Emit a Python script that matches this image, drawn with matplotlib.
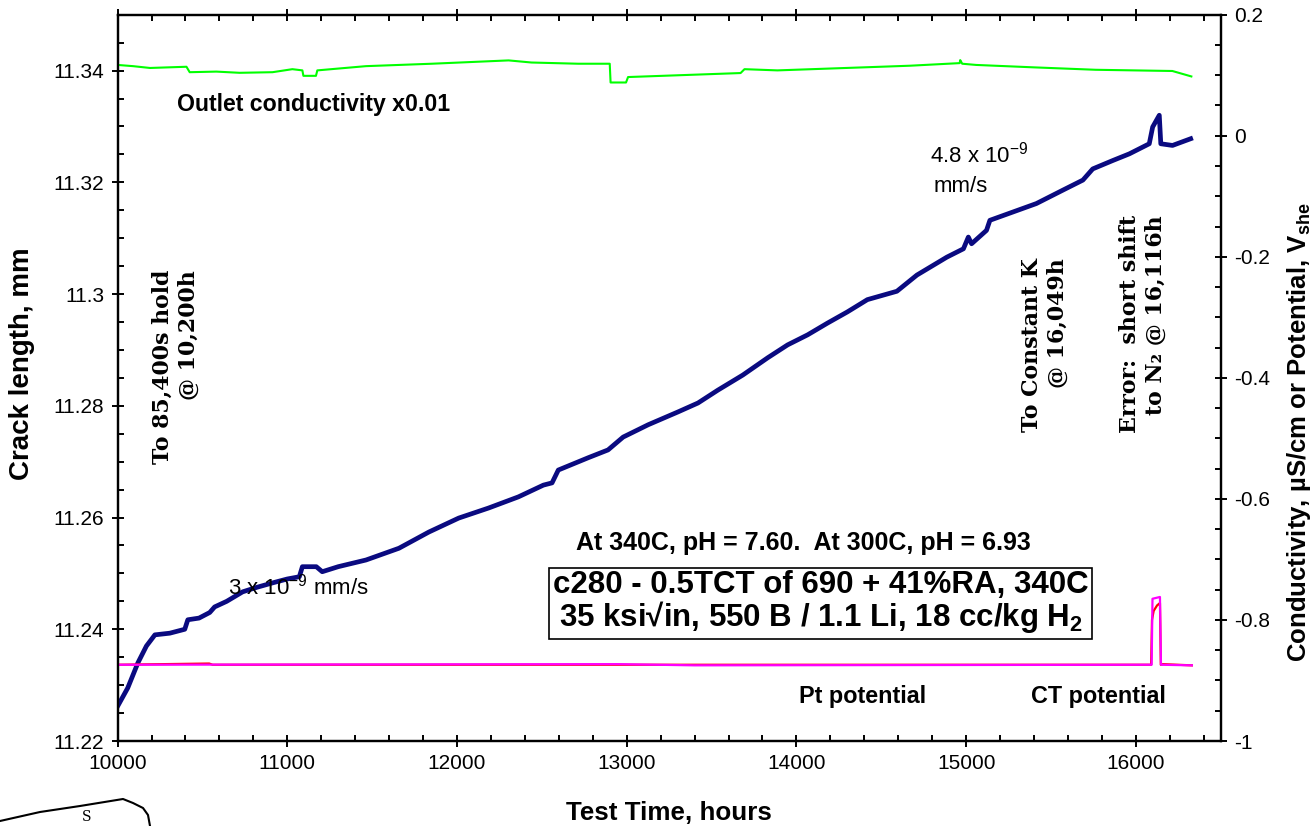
import matplotlib
matplotlib.use("Agg")
import matplotlib.pyplot as plt
from matplotlib.ticker import MultipleLocator, FuncFormatter
from matplotlib.lines import Line2D

plt.rcParams["font.family"] = ["Liberation Sans", "DejaVu Sans"]
plt.rcParams["mathtext.fontset"] = "custom"
plt.rcParams["mathtext.rm"] = "Liberation Sans"
plt.rcParams["mathtext.bf"] = "Liberation Sans:bold"
plt.rcParams["mathtext.it"] = "Liberation Sans:italic"
plt.rcParams["axes.unicode_minus"] = False

# crack length (left axis, mm)
crack_hours = [10000, 10060, 10120, 10170, 10220, 10308, 10396, 10414, 10480, 10543,
               10572, 10643, 10737, 10820, 10913, 11000, 11071, 11089, 11171, 11206,
               11300, 11464, 11658, 11834, 12010, 12186, 12362, 12509, 12560, 12597,
               12773, 12890, 12979, 13126, 13302, 13420, 13537, 13684, 13831, 13948,
               14066, 14183, 14300, 14418, 14592, 14710, 14886, 14984, 15013, 15032,
               15120, 15140, 15277, 15414, 15570, 15688, 15746, 15864, 15962, 16079,
               16099, 16138, 16147, 16216, 16323]
crack_mm = [11.2262, 11.2295, 11.2340, 11.2370, 11.2390, 11.2393, 11.2400, 11.2417, 11.2420, 11.2430,
            11.2440, 11.2450, 11.2467, 11.2475, 11.2483, 11.2490, 11.2494, 11.2512, 11.2512, 11.2503,
            11.2512, 11.2524, 11.2545, 11.2574, 11.2599, 11.2617, 11.2637, 11.2658, 11.2662, 11.2685,
            11.2707, 11.2721, 11.2744, 11.2766, 11.2789, 11.2805, 11.2828, 11.2855, 11.2886, 11.2909,
            11.2927, 11.2948, 11.2968, 11.2990, 11.3005, 11.3034, 11.3066, 11.3081, 11.3102, 11.3090,
            11.3114, 11.3132, 11.3147, 11.3162, 11.3186, 11.3204, 11.3224, 11.3239, 11.3251, 11.3269,
            11.3299, 11.3320, 11.3269, 11.3266, 11.3278]

# outlet conductivity x0.01 (right axis)
cond_hours = [10000, 10091, 10191, 10406, 10425, 10582, 10719, 10913, 11030, 11089,
              11095, 11169, 11177, 11464, 11852, 12304, 12439, 12714, 12900, 12905,
              12996, 13008, 13671, 13694, 13888, 14668, 14962, 14965, 14977, 15059,
              15400, 15763, 16215, 16327]
cond_vals = [0.117, 0.115, 0.112, 0.114, 0.105, 0.106, 0.104, 0.105, 0.110, 0.108,
             0.099, 0.099, 0.108, 0.115, 0.119, 0.1245, 0.121, 0.119, 0.119, 0.088,
             0.088, 0.097, 0.1036, 0.110, 0.108, 0.1157, 0.120, 0.125, 0.119, 0.117,
             0.113, 0.109, 0.107, 0.098]

# Pt potential (red) and CT potential (magenta), V_she
pt_hours = [10000, 10540, 10560, 16090, 16095, 16105, 16125, 16142, 16147, 16160, 16330]
pt_vals = [-0.874, -0.872, -0.874, -0.874, -0.800, -0.785, -0.776, -0.772, -0.874, -0.873, -0.875]
ct_hours = [10000, 12950, 13400, 16093, 16098, 16142, 16148, 16330]
ct_vals = [-0.874, -0.873, -0.875, -0.874, -0.765, -0.762, -0.874, -0.875]


def fmt(v, pos):
    s = f"{round(v, 4):g}"
    return "0" if s == "-0" else s


fig = plt.figure(figsize=(13.15, 8.26), dpi=100)
ax = fig.add_axes([0.0894, 0.1029, 0.8389, 0.8793])
ax2 = ax.twinx()

ax.plot(crack_hours, crack_mm, color="#0a0a80", lw=3.4, zorder=3)
ax2.plot(cond_hours, cond_vals, color="#00ff00", lw=1.5)
ax2.plot(pt_hours, pt_vals, color="#ff0000", lw=1.6)
ax2.plot(ct_hours, ct_vals, color="#ff00ff", lw=1.6)

ax.set_xlim(10000, 16500)
ax.set_ylim(11.22, 11.35)
ax2.set_ylim(-1.0, 0.2)

ax.xaxis.set_major_locator(MultipleLocator(1000))
ax.xaxis.set_minor_locator(MultipleLocator(200))
ax.yaxis.set_major_locator(MultipleLocator(0.02))
ax.yaxis.set_minor_locator(MultipleLocator(0.005))
ax2.yaxis.set_major_locator(MultipleLocator(0.2))
ax2.yaxis.set_minor_locator(MultipleLocator(0.05))
ax.yaxis.set_major_formatter(FuncFormatter(fmt))
ax2.yaxis.set_major_formatter(FuncFormatter(fmt))

for a in (ax, ax2):
    a.tick_params(which="major", direction="inout", length=9, width=1.4, labelsize=15, pad=5)
    a.tick_params(which="minor", direction="in", length=4, width=1.4)
    for sp in a.spines.values():
        sp.set_linewidth(1.6)
ax.tick_params(axis="x", which="both", top=True)
ax.tick_params(axis="y", which="both", right=False)

ax.set_xlabel("Test Time, hours", fontsize=18.7, fontweight="bold")
ax.set_ylabel("Crack length, mm", fontsize=20, fontweight="bold")
ax.xaxis.set_label_coords(0.5, -0.083)
ax.yaxis.set_label_coords(-0.075, 0.52)
ax2.set_ylabel(r"Conductivity, µS/cm or Potential, V$_\mathbf{she}$", fontsize=18.5, fontweight="bold")
ax2.yaxis.set_label_coords(1.058, 0.425)

# annotations
tk = dict(zorder=5)
ax.text(10349, 11.334, "Outlet conductivity x0.01", fontsize=16.7, fontweight="bold", va="center", **tk)
ax.text(14786, 11.3249, r"4.8 x 10$^{-9}$", fontsize=16, va="center", **tk)
ax.text(14809, 11.3192, "mm/s", fontsize=16, va="center", **tk)
ax.text(10650, 11.2476, r"3 x 10$^{-9}$ mm/s", fontsize=16, va="center", **tk)
ax.text(12702, 11.2554, "At 340C, pH = 7.60.  At 300C, pH = 6.93", fontsize=18,
        fontweight="bold", va="center", **tk)
ax.text(14143, 11.2448,
        "c280 - 0.5TCT of 690 + 41%RA, 340C\n" + r"35 ksi√in, 550 B / 1.1 Li, 18 cc/kg H$_\mathbf{2}$",
        fontsize=22.5, fontweight="bold", ha="center", va="center", linespacing=0.95,
        bbox=dict(boxstyle="square,pad=0.12", fc="white", ec="black", lw=1.2), **tk)
ax.text(14017, 11.2279, "Pt potential", fontsize=16.8, fontweight="bold", va="center", **tk)
ax.text(15384, 11.2279, "CT potential", fontsize=16.8, fontweight="bold", va="center", **tk)

serif = ["DejaVu Serif", "DejaVu Sans"]
ax.text(10343, 11.3043, "To 85,400s hold\n@ 10,200h", family=serif, fontsize=15.8,
        fontweight="bold", rotation=90, ha="center", va="top", multialignment="right", **tk)
ax.text(15464, 11.3064, "To Constant K\n@ 16,049h", family=serif, fontsize=15.8,
        fontweight="bold", rotation=90, ha="center", va="top", multialignment="right", **tk)
ax.text(16042, 11.3141, "Error:  short shift\nto N₂ @ 16,116h", family=serif, fontsize=15.8,
        fontweight="bold", rotation=90, ha="center", va="top", multialignment="right", **tk)

# stray scanned sketch in lower-left corner
sx = [0, 40, 80, 123, 133, 143, 148, 150]
sy = [821, 812, 806, 799, 803, 808, 815, 826]
fig.add_artist(Line2D([x / 1315 for x in sx], [1 - y / 826 for y in sy],
                      transform=fig.transFigure, color="black", lw=1.5))
fig.text(87 / 1315, 1 - 817 / 826, "S", family=serif, fontsize=10, ha="center", va="center")

fig.savefig("out.png", dpi=100)
